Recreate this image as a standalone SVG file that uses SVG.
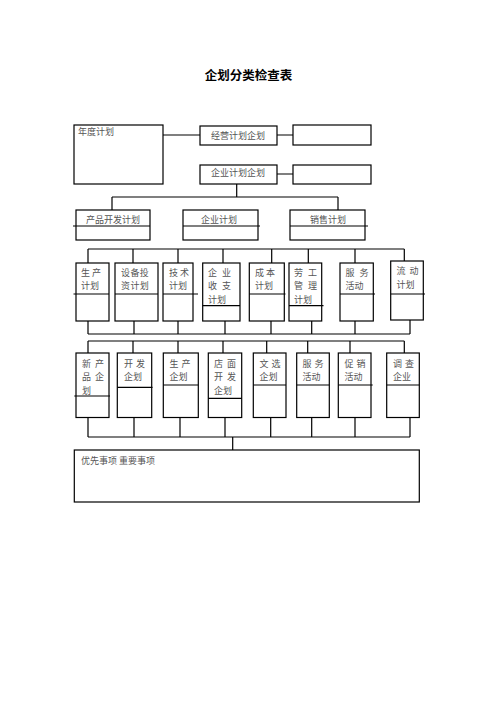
<svg xmlns="http://www.w3.org/2000/svg" width="496" height="702" viewBox="0 0 496 702">
<style>
.b{fill:#fff;stroke:#000;stroke-width:1.2}
.l{fill:none;stroke:#000;stroke-width:1.2}
.t{font-family:"Noto Sans CJK SC","Liberation Serif",serif;font-size:9px;fill:#555}
.h{font-family:"Noto Sans CJK SC","Liberation Sans",sans-serif;font-size:12.5px;font-weight:bold;fill:#000}
</style>
<rect width="496" height="702" fill="#fff"/>
<text class="h" x="248.5" y="79.5" text-anchor="middle">企划分类检查表</text>
<g id="connectors" class="l">
<path d="M163 135H200M277 135H293M277 174H293M236.7 184V197M112 197H338M112 197V210M338 197V210"/>
<path d="M88 249H404.3M88 249V263M133 249V263M178 249V263M223 249V263M271.7 249V263M308.3 249V263M355 249V263M404.3 249V261"/>
<path d="M88 321V334M134 321V334M178 321V334M225 321V334M271 321V334M311.7 321V334M355 321V334M410 320V334M88 334H410"/>
<path d="M88 341H404.3M88 341V353M133 341V353M178 341V353M223 341V353M266.7 341V353M307.7 341V353M350 341V353M404.3 341V353"/>
<path d="M88 417.5V437M134 417.5V437M180 417.5V437M225 417.5V437M270.7 417.5V437M311.7 417.5V437M355 417.5V437M410 417.5V437M88 437H410M232.7 437V450"/>
</g>
<g id="n-annual"><rect class="b" x="74" y="125" width="89" height="59"/><text class="t" x="78" y="135">年度计划</text></g>
<g id="n-jingying"><rect class="b" x="200" y="126" width="77" height="19"/><text class="t" x="211" y="138.5">经营计划企划</text></g>
<g id="n-jingying-r"><rect class="b" x="293" y="125" width="78" height="20"/></g>
<g id="n-qiye"><rect class="b" x="200" y="165" width="77" height="19"/><text class="t" x="211" y="176">企业计划企划</text></g>
<g id="n-qiye-r"><rect class="b" x="293" y="165" width="78" height="19"/></g>
<g id="n-chanpin"><rect class="b" x="76" y="210" width="74" height="30"/><path class="l" d="M73 226H150"/><text class="t" x="86" y="222.5">产品开发计划</text></g>
<g id="n-qiyejihua"><rect class="b" x="183" y="210" width="75" height="30"/><path class="l" d="M183 226H260"/><text class="t" x="201" y="222.5">企业计划</text></g>
<g id="n-xiaoshou"><rect class="b" x="290" y="210" width="75" height="30"/><path class="l" d="M290 226H368"/><text class="t" x="310" y="222.5">销售计划</text></g>
<g id="n-r3-1"><rect class="b" x="76" y="263" width="33" height="58"/><path class="l" d="M73.5 294H109"/><text class="t" x="81" y="275.5">生 产</text><text class="t" x="81" y="289">计划</text></g>
<g id="n-r3-2"><rect class="b" x="115" y="263" width="43" height="58"/><path class="l" d="M115 294H158"/><text class="t" x="121" y="275.5" letter-spacing="0.4">设备投</text><text class="t" x="121" y="289" letter-spacing="0.4">资计划</text></g>
<g id="n-r3-3"><rect class="b" x="163" y="263" width="30" height="58"/><path class="l" d="M163 294H198"/><text class="t" x="169" y="275.5">技 术</text><text class="t" x="169" y="289">计划</text></g>
<g id="n-r3-4"><rect class="b" x="202.7" y="263" width="37.3" height="58"/><path class="l" d="M202.7 305.7H240"/><text class="t" x="208" y="275.5" letter-spacing="1.5">企 业</text><text class="t" x="208" y="289" letter-spacing="1.5">收 支</text><text class="t" x="208" y="302.5">计划</text></g>
<g id="n-r3-5"><rect class="b" x="249.3" y="263" width="35" height="58"/><path class="l" d="M249.3 294H285.5"/><text class="t" x="255" y="275.5">成 本</text><text class="t" x="255" y="289">计划</text></g>
<g id="n-r3-6"><rect class="b" x="289" y="263" width="32.7" height="58"/><path class="l" d="M289 305.7H323.5"/><text class="t" x="294" y="275.5" letter-spacing="1.5">劳 工</text><text class="t" x="294" y="289" letter-spacing="1.5">管 理</text><text class="t" x="294" y="302.5">计划</text></g>
<g id="n-r3-7"><rect class="b" x="340" y="263" width="33.3" height="58"/><path class="l" d="M340 294H375"/><text class="t" x="345.5" y="275.5" letter-spacing="1.5">服 务</text><text class="t" x="345.5" y="289">活动</text></g>
<g id="n-r3-8"><rect class="b" x="390.7" y="261" width="32.6" height="59"/><path class="l" d="M390.7 294H425"/><text class="t" x="396.5" y="274" letter-spacing="1">流 动</text><text class="t" x="396.5" y="287.5">计划</text></g>
<g id="n-r4-1"><rect class="b" x="76" y="353" width="33" height="64.5"/><path class="l" d="M74.3 396H110"/><text class="t" x="82" y="366.5" letter-spacing="1">新 产</text><text class="t" x="82" y="380" letter-spacing="1">品 企</text><text class="t" x="82" y="393.5">划</text></g>
<g id="n-r4-2"><rect class="b" x="117.3" y="353" width="34.4" height="64.5"/><path class="l" d="M117.3 387.3H152.5"/><text class="t" x="124" y="366.5" letter-spacing="0.5">开 发</text><text class="t" x="124" y="380">企划</text></g>
<g id="n-r4-3"><rect class="b" x="163.3" y="353" width="35" height="64.5"/><path class="l" d="M163.3 385H198.3"/><text class="t" x="169.5" y="366.5" letter-spacing="0.5">生 产</text><text class="t" x="169.5" y="380">企划</text></g>
<g id="n-r4-4"><rect class="b" x="208.3" y="353" width="33.4" height="64.5"/><path class="l" d="M208.3 398.3H241.7"/><text class="t" x="214" y="366.5" letter-spacing="1">店 面</text><text class="t" x="214" y="380" letter-spacing="1">开 发</text><text class="t" x="214" y="393.5">企划</text></g>
<g id="n-r4-5"><rect class="b" x="253.3" y="353" width="32.7" height="64.5"/><path class="l" d="M253.3 385H286"/><text class="t" x="259.5" y="366.5" letter-spacing="0.5">文 选</text><text class="t" x="259.5" y="380">企划</text></g>
<g id="n-r4-6"><rect class="b" x="296.7" y="353" width="32.6" height="64.5"/><path class="l" d="M296.7 385H329.3"/><text class="t" x="302.5" y="366.5" letter-spacing="0.5">服 务</text><text class="t" x="302.5" y="380">活动</text></g>
<g id="n-r4-7"><rect class="b" x="338.3" y="353" width="32.7" height="64.5"/><path class="l" d="M338.3 385H372.7"/><text class="t" x="344.5" y="366.5" letter-spacing="0.5">促 销</text><text class="t" x="344.5" y="380">活动</text></g>
<g id="n-r4-8"><rect class="b" x="386.7" y="353" width="32.6" height="64.5"/><path class="l" d="M386.7 385H419.3"/><text class="t" x="393" y="366.5" letter-spacing="0.5">调 查</text><text class="t" x="393" y="380">企业</text></g>
<g id="n-bottom"><rect class="b" x="74.3" y="450" width="345" height="52"/><text class="t" x="81" y="464">优先事项 重要事项</text></g>
</svg>
